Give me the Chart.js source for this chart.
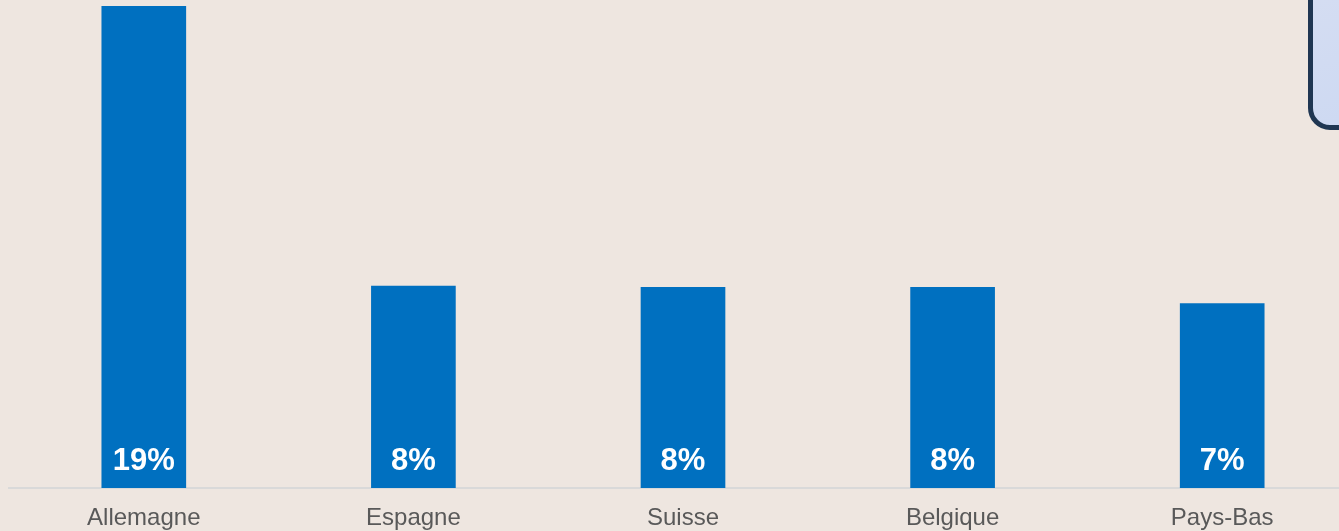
<!DOCTYPE html>
<html>
<head>
<meta charset="utf-8">
<script src="https://cdn.jsdelivr.net/npm/chart.js@4"></script>
<style>
  html, body { margin:0; padding:0; background:#eee6e0; overflow:hidden; width:1339px; height:531px; }
  #wrap { position:absolute; left:0; top:0; width:1360px; height:531px; }
  #box { position:absolute; left:1308px; top:-40px; width:120px; height:160px;
         border:5px solid #1f3652; border-radius:22px;
         background:linear-gradient(160deg,#d6def2,#ccd8f2); }
</style>
</head>
<body>
<div id="wrap"><canvas id="c" width="1360" height="531"></canvas></div>
<div id="box"></div>
<script>
const categories = ["Allemagne", "Espagne", "Suisse", "Belgique", "Pays-Bas"];
const shares = [19.0, 7.96, 7.91, 7.91, 7.27];
const valueLabels = ["19%", "8%", "8%", "8%", "7%"];

const labelPlugin = {
  id: 'barLabels',
  afterDatasetsDraw(chart) {
    const ctx = chart.ctx;
    const meta = chart.getDatasetMeta(0);
    ctx.save();
    ctx.fillStyle = '#ffffff';
    ctx.font = 'bold 31px "Liberation Sans", Arial, sans-serif';
    ctx.textAlign = 'center';
    ctx.textBaseline = 'alphabetic';
    meta.data.forEach((bar, i) => {
      ctx.fillText(valueLabels[i], bar.x, bar.base - 18);
    });
    ctx.restore();
  }
};

new Chart(document.getElementById('c'), {
  type: 'bar',
  data: {
    labels: categories,
    datasets: [{
      data: shares,
      backgroundColor: '#0070c0',
      borderWidth: 0,
      barThickness: 84
    }]
  },
  options: {
    responsive: false,
    animation: false,
    devicePixelRatio: 1,
    layout: { padding: { left: 9, right: 3, top: 6, bottom: 0 } },
    plugins: { legend: { display: false }, tooltip: { enabled: false } },
    scales: {
      x: {
        grid: { display: false, drawTicks: false },
        border: { display: true, color: '#d9d9d9', width: 2 },
        ticks: {
          color: '#595959',
          font: { family: '"Liberation Sans", Arial, sans-serif', size: 24 },
          padding: 16,
          maxRotation: 0
        },
        afterFit(scale) { scale.height = 43; }
      },
      y: {
        display: false,
        min: 0,
        max: 19
      }
    }
  },
  plugins: [labelPlugin]
});
</script>
</body>
</html>
